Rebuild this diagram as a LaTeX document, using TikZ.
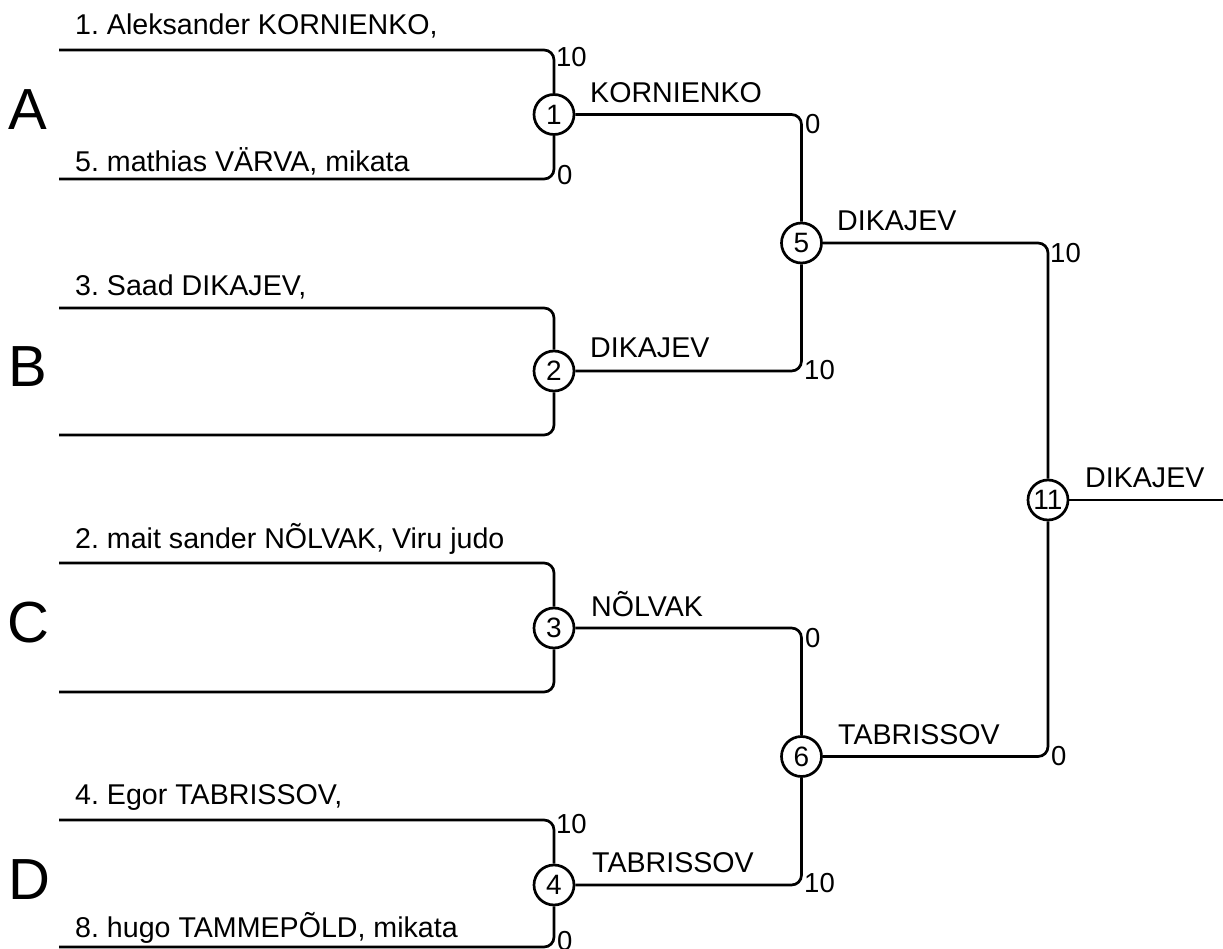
\documentclass[tikz,border=0pt]{standalone}
\usepackage{fontspec}
\setmainfont{Liberation Sans}
\frenchspacing
\begin{document}
\begin{tikzpicture}[x=1pt,y=-1pt,
  conn/.style={line width=2.7pt, rounded corners=10pt},
  matchnode/.style={circle, draw, line width=2.7pt, minimum size=40pt, inner sep=0pt, font=\fontsize{28}{28}\selectfont},
  nametxt/.style={anchor=base west, inner sep=0pt, font=\fontsize{28.6}{28.6}\selectfont},
  scoretxt/.style={anchor=west, inner sep=0pt, font=\fontsize{27.5}{27.5}\selectfont},
  pooltxt/.style={anchor=base west, inner sep=0pt, font=\fontsize{58}{58}\selectfont}]
\useasboundingbox (0,0) rectangle (1223,949);

% match circles
\node[matchnode] (m1) at (554,114.5) {1};
\node[matchnode] (m2) at (554,371) {2};
\node[matchnode] (m3) at (554,628) {3};
\node[matchnode] (m4) at (554,885) {4};
\node[matchnode] (m5) at (801.5,243) {5};
\node[matchnode] (m6) at (801.5,756.5) {6};
\node[matchnode] (m11) at (1048,500) {11};

% left line ends
\coordinate (a1) at (59,50);
\coordinate (a2) at (59,179);
\coordinate (b1) at (59,308);
\coordinate (b2) at (59,435);
\coordinate (c1) at (59,563);
\coordinate (c2) at (59,692);
\coordinate (d1) at (59,820);
\coordinate (d2) at (59,947);
\coordinate (fin) at (1223,500);

% round 1
\draw[conn] (a1) -- (a1 -| m1) -- (m1.north);
\draw[conn] (a2) -- (a2 -| m1) -- (m1.south);
\draw[conn] (b1) -- (b1 -| m2) -- (m2.north);
\draw[conn] (b2) -- (b2 -| m2) -- (m2.south);
\draw[conn] (c1) -- (c1 -| m3) -- (m3.north);
\draw[conn] (c2) -- (c2 -| m3) -- (m3.south);
\draw[conn] (d1) -- (d1 -| m4) -- (m4.north);
\draw[conn] (d2) -- (d2 -| m4) -- (m4.south);
% round 2
\draw[conn] (m1.east) -- (m1 -| m5) -- (m5.north);
\draw[conn] (m2.east) -- (m2 -| m5) -- (m5.south);
\draw[conn] (m3.east) -- (m3 -| m6) -- (m6.north);
\draw[conn] (m4.east) -- (m4 -| m6) -- (m6.south);
% final
\draw[conn] (m5.east) -- (m5 -| m11) -- (m11.north);
\draw[conn] (m6.east) -- (m6 -| m11) -- (m11.south);
\draw[conn] (m11.east) -- (fin);

% pool letters
\node[pooltxt] (pA) at (8,130) {A};
\node[pooltxt] (pB) at (8,386) {B};
\node[pooltxt] (pC) at (7,642) {C};
\node[pooltxt] (pD) at (8,899) {D};

% competitor names
\node[nametxt] (n1) at (75,35) {1. Aleksander KORNIENKO,};
\node[nametxt] (n5) at (75,172) {5. mathias VÄRVA, mikata};
\node[nametxt] (n3) at (75,296) {3. Saad DIKAJEV,};
\node[nametxt] (n2) at (75,548) {2. mait sander NÕLVAK, Viru judo};
\node[nametxt] (n4) at (75,804) {4. Egor TABRISSOV,};
\node[nametxt] (n8) at (75,937) {8. hugo TAMMEPÕLD, mikata};

% winners
\node[nametxt] (w1) at (590,103) {KORNIENKO};
\node[nametxt] (w2) at (590,358) {DIKAJEV};
\node[nametxt] (w3) at (591,616) {NÕLVAK};
\node[nametxt] (w4) at (592,872) {TABRISSOV};
\node[nametxt] (w5) at (837,231) {DIKAJEV};
\node[nametxt] (w6) at (838,744) {TABRISSOV};
\node[nametxt] (w11) at (1085,487) {DIKAJEV};

% scores
\node[scoretxt] (s1a) at (556,57) {10};
\node[scoretxt] (s1b) at (557,175) {0};
\node[scoretxt] (s4a) at (556,824) {10};
\node[scoretxt] (s4b) at (557,941) {0};
\node[scoretxt] (s5a) at (805,124) {0};
\node[scoretxt] (s5b) at (804,370) {10};
\node[scoretxt] (s6a) at (805,638) {0};
\node[scoretxt] (s6b) at (804,883) {10};
\node[scoretxt] (s11a) at (1050,253) {10};
\node[scoretxt] (s11b) at (1051,756) {0};
\end{tikzpicture}
\end{document}
